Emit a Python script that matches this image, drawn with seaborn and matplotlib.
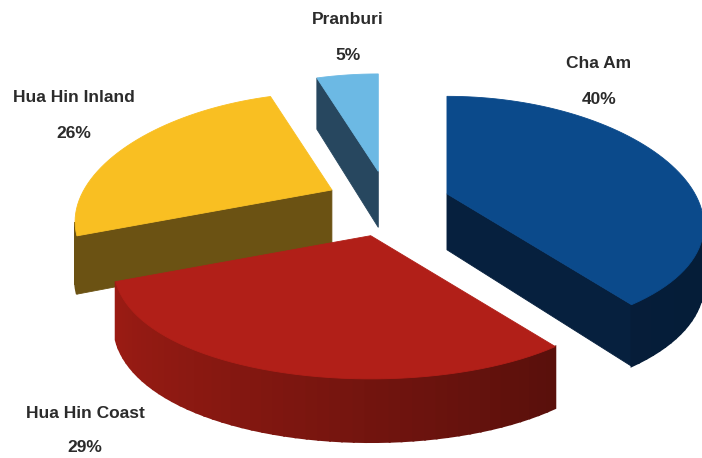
import numpy as np
import matplotlib
matplotlib.use("Agg")
import matplotlib.pyplot as plt
from matplotlib.patches import Polygon
import seaborn as sns

# Share of visitors by area (percent), listed clockwise from 12 o'clock
regions = ["Cha Am", "Hua Hin Coast", "Hua Hin Inland", "Pranburi"]
shares = [40, 29, 26, 5]

# Styling
top_colors = ["#0b4a8b", "#b11f18", "#f9bf22", "#6cb9e4"]
side_colors = ["#06203e", "#9e1c14", "#6b5213", "#27475f"]
rim_fade = [0.1, 0.55, 0.0, 0.0]
label_xy = [(599, 63, 100), (85, 413, 448), (74, 97, 133), (348, 19, 55)]

# Oblique "3-D" pie geometry (pixel units)
CENTER = (388.0, 204.0)
EXPLODE = (62.0, 33.0)
RX, RY = 248.0, 116.0
PERSP_X, PERSP_Y = 0.26, 0.19
DEPTH = 56.0
START = 90.0

sns.set_theme(style="white")
plt.rcParams["font.family"] = ["Liberation Sans", "DejaVu Sans"]

fig = plt.figure(figsize=(7.02, 4.58), dpi=100)
ax = fig.add_axes([0, 0, 1, 1])
ax.set_xlim(0, 702)
ax.set_ylim(458, 0)
ax.axis("off")


def project(apex, theta, r):
    dx, dy = r * np.cos(theta), r * np.sin(theta)
    kx = 1.0 / (1.0 + PERSP_X * dy)
    ky = 1.0 / (1.0 + PERSP_Y * dy)
    return np.array([apex[0] + RX * dx * kx, apex[1] - RY * dy * ky]), dy


def thickness(dy):
    return DEPTH * (1.0 / (1.0 + PERSP_X * dy)) ** 0.4


def signed_area(pts):
    x, y = pts[:, 0], pts[:, 1]
    return np.sum(x * np.roll(y, -1) - np.roll(x, -1) * y) / 2.0


def shade(color, f):
    rgb = np.array(matplotlib.colors.to_rgb(color))
    return tuple(np.clip(rgb * f, 0, 1))


total = float(sum(shares))
cum = np.concatenate([[0.0], np.cumsum(shares)]) / total * 360.0

slices = []
for i, name in enumerate(regions):
    hi = np.radians(START - cum[i])
    lo = np.radians(START - cum[i + 1])
    mid = 0.5 * (lo + hi)
    apex = np.array([CENTER[0] + EXPLODE[0] * np.cos(mid),
                     CENTER[1] - EXPLODE[1] * np.sin(mid)])
    n = max(8, int(np.degrees(hi - lo) / 2))
    thetas = np.linspace(lo, hi, n)
    # top boundary, counter-clockwise: apex -> arc -> apex
    tops, bots, kinds, angs = [apex.copy()], [apex + [0, thickness(0.0)]], ["apex"], [mid]
    for t in thetas:
        p, dy = project(apex, t, 1.0)
        tops.append(p)
        bots.append(p + [0, thickness(dy)])
        kinds.append("arc")
        angs.append(t)
    slices.append((apex[1], i, np.array(tops), np.array(bots), kinds, angs))

for _, i, tops, bots, kinds, angs in sorted(slices, key=lambda s: s[0]):
    m = len(tops)
    rim = []
    for j in range(m):
        k = (j + 1) % m
        quad = np.array([tops[j], tops[k], bots[k], bots[j]])
        if signed_area(quad) <= 0:
            continue
        if kinds[j] == "arc" and kinds[k] == "arc":
            c = np.cos(0.5 * (angs[j] + angs[k]))
            rim.append((quad, shade(side_colors[i], 1.0 - rim_fade[i] * (c + 1.0) / 2.0)))
        else:
            ax.add_patch(Polygon(quad, closed=True, facecolor=side_colors[i],
                                 edgecolor=side_colors[i], linewidth=0.6))
    for quad, col in rim:
        ax.add_patch(Polygon(quad, closed=True, facecolor=col, edgecolor=col,
                             linewidth=1.4, joinstyle="miter"))
    ax.add_patch(Polygon(tops, closed=True, facecolor=top_colors[i],
                         edgecolor=top_colors[i], linewidth=0.6))

for name, val, (x, y1, y2) in zip(regions, shares, label_xy):
    ax.text(x, y1, name, ha="center", va="center", fontsize=12.5,
            fontweight="bold", color="#2b2b2b")
    ax.text(x, y2, f"{val}%", ha="center", va="center", fontsize=12.5,
            fontweight="bold", color="#2b2b2b")

fig.savefig("out.png", dpi=100, facecolor="white")
